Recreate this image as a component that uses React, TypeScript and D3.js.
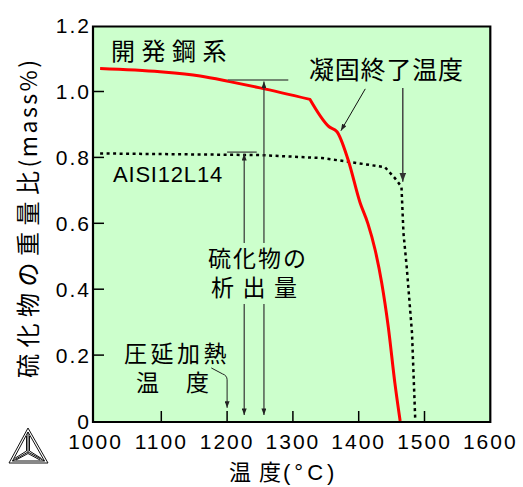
import * as d3 from 'd3';
import React from 'react';

// 温度軸と硫化物量軸の目盛り
const tempTicks = [1000, 1100, 1200, 1300, 1400, 1500, 1600];
const sulfTicks = [0, 0.2, 0.4, 0.6, 0.8, 1.0, 1.2];
const sulfLabels = ['0', '0.2', '0.4', '0.6', '0.8', '1.0', '1.2'];

// 開発鋼系 (赤線) 1326℃で折れ曲がる
const devTemp = [1007, 1098, 1159, 1204, 1250, 1326, 1355, 1367, 1384, 1402, 1414, 1425, 1435, 1445, 1455, 1463];
const devSulf = [1.070, 1.060, 1.047, 1.030, 1.011, 0.976, 0.893, 0.878, 0.792, 0.663, 0.599, 0.519, 0.419, 0.285, 0.115, 0];
const devKnee = 1326;

// AISI12L14 (点線)
const aisiTemp = [1007, 1250, 1344, 1384, 1440, 1455, 1465, 1468, 1473, 1481, 1486];
const aisiSulf = [0.812, 0.807, 0.798, 0.787, 0.770, 0.737, 0.711, 0.571, 0.467, 0.267, 0];

const JP = '"Noto Sans CJK JP", sans-serif';
const LAT = '"Liberation Sans", Arial, sans-serif';

export default function App() {
  const x = d3.scaleLinear().domain([1000, 1600]).range([95.5, 490.3]);
  const y = d3.scaleLinear().domain([0, 1.2]).range([421, 25.6]);

  const smooth = d3.line<[number, number]>()
    .x(d => x(d[0]))
    .y(d => y(d[1]))
    .curve(d3.curveMonotoneX);
  const straight = d3.line<[number, number]>()
    .x(d => x(d[0]))
    .y(d => y(d[1]));

  const devPts = devTemp.map((t, i) => [t, devSulf[i]] as [number, number]);
  const aisiPts = aisiTemp.map((t, i) => [t, aisiSulf[i]] as [number, number]);
  const devA = devPts.filter(p => p[0] <= devKnee);
  const devB = devPts.filter(p => p[0] >= devKnee);

  const left = 93;
  const right = x(1600);
  const top = 26.5;
  const bottom = 422;

  return (
    <svg width={523} height={487} style={{ position: 'absolute', left: 0, top: 0, background: '#fff' }}>
      <defs>
        <marker id="ah" viewBox="0 0 8 6" refX="8" refY="3" markerWidth="7" markerHeight="5"
          markerUnits="userSpaceOnUse" orient="auto-start-reverse">
          <path d="M0,0 L8,3 L0,6 Z" fill="#222" />
        </marker>
        <marker id="ahBig" viewBox="0 0 8 6" refX="8" refY="3" markerWidth="9" markerHeight="7"
          markerUnits="userSpaceOnUse" orient="auto-start-reverse">
          <path d="M0,0 L8,3 L0,6 Z" fill="#333" />
        </marker>
      </defs>

      {/* 背景 */}
      <rect x={left} y={top} width={right - left} height={bottom - top} fill="#ccffcc" />

      {/* 目盛り */}
      {sulfTicks.filter(v => v > 0 && v < 1.2).map(v => (
        <line key={'yt' + v} x1={left} x2={left + 11} y1={y(v)} y2={y(v)} stroke="#000" strokeWidth={1.5} />
      ))}
      {tempTicks.filter(t => t > 1000 && t < 1600).map(t => (
        <line key={'xt' + t} x1={x(t)} x2={x(t)} y1={bottom} y2={bottom - 11} stroke="#000" strokeWidth={1.5} />
      ))}

      {/* 曲線 */}
      <path d={straight(aisiPts) || ''} fill="none" stroke="#000" strokeWidth={2.5} strokeDasharray="3,3.5" />
      <path d={(smooth(devA) || '') + (smooth(devB) || '').replace(/^M/, 'L')} fill="none" stroke="#ff0000"
        strokeWidth={3} strokeLinejoin="round" />

      {/* 硫化物の析出量 の矢印 */}
      <line x1={x(1201)} x2={x(1293)} y1={y(1.035)} y2={y(1.035)} stroke="#556055" strokeWidth={1.5} />
      <line x1={x(1200)} x2={x(1245)} y1={y(0.816)} y2={y(0.816)} stroke="#556055" strokeWidth={1.5} />
      {[1256, 1226].map((t, i) => (
        <g key={'ar' + t}>
          <line x1={x(t)} x2={x(t)} y1={y(0.54)} y2={y(i === 0 ? 1.030 : 0.811)}
            stroke="#333" strokeWidth={1.2} markerEnd="url(#ah)" />
          <line x1={x(t)} x2={x(t)} y1={y(0.355)} y2={y(0.018)}
            stroke="#333" strokeWidth={1.2} markerEnd="url(#ah)" />
        </g>
      ))}

      {/* 凝固終了温度 の矢印 */}
      <line x1={x(1410)} y1={y(1.008)} x2={x(1373)} y2={y(0.881)} stroke="#111" strokeWidth={1} markerEnd="url(#ah)" />
      <line x1={x(1467)} y1={y(1.011)} x2={x(1467)} y2={y(0.726)} stroke="#444" strokeWidth={1.5} markerEnd="url(#ahBig)" />

      {/* 圧延加熱温度 の矢印 */}
      <path d={`M${x(1176)},${y(0.161)} L${x(1193)},${y(0.143)} Q${x(1200)},${y(0.138)} ${x(1200)},${y(0.125)} L${x(1200)},${y(0.04)}`}
        fill="none" stroke="#222" strokeWidth={1} markerEnd="url(#ah)" />

      {/* 枠 */}
      <path d={`M${left},${top} L${left},${bottom} L${right},${bottom} L${right},${top} Z`}
        fill="none" stroke="#000" strokeWidth={2.2} />

      {/* 目盛りラベル */}
      {sulfTicks.map((v, i) => (
        <text key={'yl' + v} x={89} y={y(v) + 7.5} textAnchor="end" fontFamily={LAT} fontSize={21}
          letterSpacing={2} dx={2} fill="#000">{sulfLabels[i]}</text>
      ))}
      {tempTicks.map(t => (
        <text key={'xl' + t} x={x(t) - 1} y={449} textAnchor="middle" fontFamily={LAT} fontSize={21}
          letterSpacing={2} dx={1} fill="#000">{t}</text>
      ))}

      {/* 軸タイトル */}
      <text transform="translate(37,378) rotate(-90)" fontFamily={JP} fill="#000">
        <tspan fontSize={24} letterSpacing={6.5}>硫化物の重量比</tspan>
        <tspan fontSize={23} letterSpacing={2.5} dx={-3}>(mass%)</tspan>
      </text>
      <text x={229} y={480} fontFamily={JP} fill="#000">
        <tspan fontSize={22} letterSpacing={8}>温度</tspan>
        <tspan fontFamily={LAT} fontSize={22} letterSpacing={4} dx={-6}>(°C)</tspan>
      </text>

      {/* 注記 */}
      <text x={111} y={60} fontFamily={JP} fontSize={24} letterSpacing={6.5} fill="#000">開発鋼系</text>
      <text x={113} y={182} fontFamily={LAT} fontSize={22} letterSpacing={0.8} fill="#000">AISI12L14</text>
      <text x={309} y={79} fontFamily={JP} fontSize={25} letterSpacing={0.8} fill="#000">凝固終了温度</text>
      <text x={208} y={267} fontFamily={JP} fontSize={23} letterSpacing={2} fill="#000">硫化物の</text>
      <text x={211} y={296} fontFamily={JP} fontSize={23} letterSpacing={8.5} fill="#000">析出量</text>
      <text x={124} y={362} fontFamily={JP} fontSize={23} letterSpacing={3.5} fill="#000">圧延加熱</text>
      <text x={136} y={391} fontFamily={JP} fontSize={23} fill="#000">温</text>
      <text x={186} y={391} fontFamily={JP} fontSize={23} fill="#000">度</text>

      {/* Thermo-Calc ロゴ */}
      <g fill="none" stroke="#111" strokeWidth={1}>
        <path d="M28,428 L9,463 L48,463 Z" />
        <path d="M28,432 L12.5,461 L44.5,461 Z" />
        <path d="M28,432 L28,452 M12.5,461 L28,452 M44.5,461 L28,452" />
        <path d="M26.5,436 L26.5,451 L14.5,458.5 M29.5,436 L29.5,451 L41.5,458.5 M16,460 L28,453.5 L40,460" />
      </g>
    </svg>
  );
}
